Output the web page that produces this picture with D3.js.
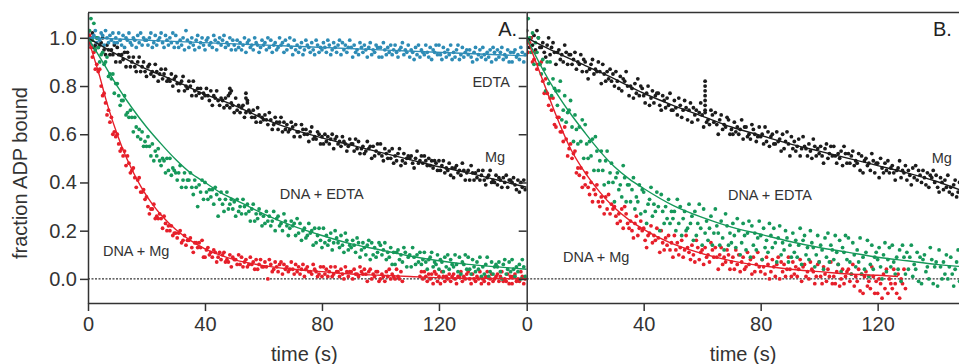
<!DOCTYPE html>
<html>
<head>
<meta charset="utf-8">
<script src="https://cdn.jsdelivr.net/npm/d3@7"></script>
<style>
	body { margin: 0; background: #fff; }
	svg { display: block; font-family: 'Liberation Sans', Arial, sans-serif; }
	.axis path, .axis line { stroke: #333; stroke-width: 1.5; }
	.axis text { font-size: 20px; fill: #333; font-family: 'Liberation Sans', Arial, sans-serif; }
	.note { font-size: 14.5px; fill: #333; }
	.panel-name { font-size: 20px; fill: #222; }
</style>
</head>
<body>
<svg id="chart" width="959" height="364"></svg>
<script>
// fraction ADP bound x 100, one reading every 0.5 s from t = 0
const timeStep = 0.5;
const tickTimes = [0, 40, 80, 120];
const tickFractions = [0, 0.2, 0.4, 0.6, 0.8, 1.0];

// panel A
const panelA_edta = [
	102,99,97,100,101,103,98,100,99,102,101,97,103,100,98,101,99,102,98,100,
	98,102,99,97,101,96,100,99,102,98,97,100,99,96,101,98,102,97,100,99,
	99,97,100,102,96,98,101,97,99,100,102,98,96,101,99,97,100,98,102,96,
	101,98,96,99,97,100,95,103,99,96,98,100,97,95,99,101,96,98,100,97,
	95,99,100,97,98,96,101,99,95,98,100,97,99,101,96,98,97,100,95,99,
	97,95,99,96,98,95,97,100,94,98,99,96,97,95,100,98,97,94,96,99,
	97,98,95,100,96,99,94,97,98,95,96,100,97,98,94,99,95,97,100,96,
	93,99,95,97,94,96,98,93,95,99,97,96,94,98,95,93,99,97,94,96,
	95,98,96,94,99,97,93,95,98,96,94,97,99,93,98,95,97,94,96,99,
	96,92,97,94,95,93,98,96,94,97,95,92,96,98,93,95,94,97,96,92,
	96,92,98,95,93,96,94,97,93,95,97,94,92,95,96,98,93,95,94,97,
	92,95,94,91,96,93,97,92,95,94,93,97,94,92,96,91,95,94,97,93,
	97,93,91,96,94,92,95,93,97,91,94,92,95,97,91,93,96,92,94,95,
	93,95,92,90,94,96,91,93,95,92,96,93,91,94,92,95,90,96,94,91,
	95,92,94,96,91,93,92,95,90,94,90,94,95,92,93,91,96,94,90,93
];
const panelA_mg = [
	100,98,100,102,96,97,100,96,97,98,100,95,93,97,95,93,95,93,97,90,
	96,93,90,93,91,94,88,94,92,88,90,92,88,86,90,92,86,88,90,86,
	84,88,89,85,86,84,89,86,82,85,87,83,85,87,82,83,82,85,80,83,
	84,81,78,81,82,84,78,80,79,82,80,76,82,78,76,79,77,79,75,77,
	76,79,76,74,78,72,76,75,78,74,72,75,74,71,75,72,76,71,73,72,
	69,75,70,72,69,71,72,67,69,73,70,69,67,70,67,65,71,68,65,67,
	66,68,66,64,69,66,62,64,67,65,62,65,67,61,65,62,64,61,62,65,
	63,59,64,61,61,59,64,62,60,62,60,57,61,63,58,59,58,61,60,56,
	59,56,60,57,59,56,58,60,54,58,59,56,57,55,59,57,56,53,55,58,
	56,56,53,58,54,57,52,54,55,52,53,57,54,55,50,55,51,53,56,52,
	56,51,49,54,52,50,53,50,54,48,51,49,52,54,47,49,52,48,50,51,
	50,51,48,46,50,53,48,49,51,48,51,49,47,50,47,49,46,49,48,45,
	49,45,47,49,44,46,45,48,43,46,42,46,47,44,45,43,48,45,41,44,
	45,41,47,44,41,44,42,45,41,43,45,41,39,42,43,45,40,41,40,43,
	39,42,41,38,42,40,43,38,41,41,40,42,39,37,41,36,40,38,41,37
];
const panelA_mgSpike = [[48.5, 79], [48.5, 77], [49, 78], [54, 77], [54, 75], [54.5, 74]];
const panelA_dnaEdta = [
	99,103,108,99,106,95,100,96,90,93,94,89,90,92,84,85,83,85,77,81,
	81,76,72,74,74,76,68,69,67,70,67,61,67,63,59,62,58,61,55,57,
	55,59,55,51,56,49,53,51,54,49,47,50,49,44,50,45,50,43,46,45,
	44,41,44,47,38,41,44,38,41,41,44,38,35,41,38,30,39,36,41,33,
	40,36,33,37,34,37,31,38,35,26,33,36,31,28,33,36,29,31,33,29,
	32,26,33,28,30,27,33,30,27,31,28,24,29,31,24,27,25,29,27,22,
	26,23,28,24,26,22,24,28,20,25,26,22,23,20,27,24,22,18,21,24,
	22,23,18,25,19,23,16,20,21,17,18,23,19,20,14,21,15,18,21,16,
	13,21,15,18,14,16,19,12,15,20,17,15,13,18,14,11,19,16,12,14,
	13,16,14,11,17,15,9,12,15,13,10,14,16,8,15,10,13,9,11,15,
	14,10,12,15,8,11,9,13,6,11,6,11,12,8,10,7,13,11,5,9,
	10,5,13,9,6,10,7,11,6,8,11,7,4,8,9,11,5,7,6,10,
	4,8,7,3,9,5,10,4,8,6,5,10,6,3,9,2,7,6,10,4,
	9,4,2,8,5,3,7,4,9,1,5,2,6,9,1,3,7,2,5,6,
	5,7,3,0,6,8,2,4,7,3,8,4,1,5,3,6,0,8,5,1
];
const panelA_dnaMg = [
	99,101,96,92,94,87,89,86,87,80,76,77,73,68,70,65,67,60,61,59,
	60,56,53,54,51,53,47,51,48,44,45,46,42,38,41,42,36,36,37,33,
	34,30,27,29,29,31,25,26,25,27,25,21,26,23,20,22,20,22,18,19,
	19,17,19,20,15,16,18,14,16,16,17,13,11,15,15,13,15,13,16,9,
	9,12,13,10,11,9,12,11,7,9,11,8,10,11,7,8,7,10,5,9,
	8,8,6,10,6,9,5,7,8,5,6,9,6,7,4,8,4,6,8,5,
	5,7,5,0,8,6,3,4,7,5,3,6,7,2,6,4,5,3,4,7,
	4,2,6,3,5,2,4,6,1,4,5,3,3,2,6,4,3,1,2,5,
	1,5,2,4,1,3,5,1,2,5,3,3,1,4,2,0,5,3,1,3,
	3,0,4,2,2,1,5,3,2,4,2,-1,3,4,0,2,1,3,3,-1,
	0,2,1,-1,3,1,4,0,2,1,0,4,1,0,3,-1,null,null,null,null,
	null,null,null,null,null,null,null,1,3,0,3,1,-1,2,0,2,-2,3,2,-1,
	1,-2,3,1,-1,1,0,2,-1,1,2,0,-2,1,1,3,-1,1,0,2,
	3,0,-2,2,0,-1,1,0,3,-2,0,-1,1,3,-2,0,2,-1,0,1,
	2,-1,1,3,-1,0,-1,2,-2,1,-2,1,2,-1,0,-1,3,1,-2,0
];

// panel B
const panelB_mg = [
	103,99,96,100,97,101,95,103,100,96,96,98,94,92,97,100,93,96,98,94,
	89,94,95,91,93,90,97,94,89,93,93,89,91,94,87,90,89,93,86,91,
	90,86,83,87,89,91,85,87,86,90,86,81,89,85,82,86,83,87,82,85,
	80,86,82,79,84,78,83,82,86,80,76,80,79,75,81,77,83,76,80,79,
	76,73,77,80,72,75,78,73,76,77,77,72,70,76,74,71,75,72,77,70,
	70,74,71,68,75,72,67,70,74,71,66,70,73,65,71,68,70,66,69,73,
	68,63,69,65,66,64,70,68,65,69,64,60,66,68,62,64,63,67,66,60,
	62,60,65,61,63,60,62,66,58,63,63,59,60,58,64,62,60,57,59,63,
	59,60,56,63,57,61,55,59,60,56,56,61,57,58,53,60,54,57,61,56,
	51,59,54,57,53,55,58,51,54,59,55,54,51,56,53,50,58,55,51,54,
	52,55,51,48,54,56,50,52,55,51,55,51,48,52,50,53,47,55,52,48,
	52,48,51,53,47,49,48,52,45,51,44,49,50,47,48,45,52,49,44,48,
	48,42,50,46,44,48,45,49,44,46,47,44,41,45,46,49,42,45,44,47,
	41,45,43,39,46,42,47,41,45,43,40,45,42,39,44,38,43,42,45,40,
	43,38,36,42,40,37,41,38,43,36,38,35,39,41,34,36,40,35,38,39
];
const panelB_mgSpike = [[61, 82], [61, 80], [61, 78], [61, 76], [61, 74], [61, 72], [61, 70]];
const panelB_dnaEdta = [
	100,108,100,94,102,89,98,94,100,89,85,91,87,78,90,81,90,76,83,79,
	78,72,78,82,66,70,76,65,69,70,74,63,57,68,62,56,63,57,66,50,
	64,56,50,57,51,58,45,59,53,45,49,53,45,39,49,53,40,44,48,40,
	32,42,44,37,39,34,47,42,32,39,39,32,37,42,29,34,32,39,27,37,
	36,28,23,31,33,38,26,31,28,36,30,20,35,28,23,30,25,33,23,28,
	25,28,20,33,23,30,18,25,28,20,21,31,23,26,16,28,18,23,31,21,
	14,29,19,24,16,21,26,14,19,29,22,19,14,24,17,12,27,22,14,19,
	15,23,18,13,25,20,10,15,23,18,12,19,24,9,22,14,19,12,17,24,
	18,8,21,13,16,11,23,18,13,21,15,7,17,22,10,15,12,20,17,7,
	14,9,19,11,16,9,14,21,6,16,18,10,13,8,20,15,13,5,10,18,
	7,14,12,4,17,9,19,7,14,12,8,18,11,6,16,3,13,11,18,8,
	17,7,2,15,10,5,12,7,17,2,9,4,11,16,1,6,14,4,9,11,
	8,13,5,0,10,15,3,8,13,5,14,7,2,9,4,12,-1,14,9,2,
	11,4,9,14,1,6,4,11,-1,9,-2,8,10,3,5,0,13,8,-2,5,
	7,-3,12,5,0,7,2,10,0,5,9,2,-3,4,7,12,-1,4,2,9
];
const panelB_dnaMg = [
	98,94,98,100,90,91,94,87,89,89,90,82,77,83,77,72,75,70,75,64,
	63,67,67,61,61,57,63,58,51,54,56,50,52,53,44,46,43,46,38,42,
	39,44,38,35,40,32,37,35,39,32,30,34,32,27,34,29,35,27,31,29,
	30,26,23,27,24,29,21,30,27,23,21,24,20,17,23,26,18,21,24,20,
	21,16,13,18,19,22,15,18,16,21,17,11,20,15,12,17,14,18,12,15,
	9,18,12,15,10,13,16,9,12,18,13,11,8,14,10,7,16,13,8,11,
	12,6,13,9,10,7,15,12,9,13,9,4,10,13,6,9,7,12,10,4,
	7,9,4,12,6,10,3,7,9,4,5,11,6,8,2,9,3,6,11,5,
	3,8,5,2,9,6,0,3,8,5,1,6,9,0,7,3,6,1,4,9,
	4,1,7,2,5,1,4,8,-1,5,6,1,3,0,7,4,3,-2,1,6,
	7,1,-2,5,2,-1,4,1,7,-2,1,-2,3,6,-3,0,4,-2,1,3,
	4,-1,2,6,-3,1,-1,4,-5,2,-6,1,3,-3,-1,-4,5,1,-6,-1,
	-6,0,-2,-8,2,-4,4,-6,0,-2,-4,4,-2,-6,2,-8,0,-2,4,-4
];

// fitted curves, [time s, fraction x 100]
const fitA_edta = [[0,100],[50,97.5],[100,95],[150,92.5]];
const fitA_mg = [[0,100],[10,93],[20,87],[30,82],[40,76.5],[50,72],[60,66.5],[70,62],[80,58.5],[90,55.5],[100,52.5],[110,49.5],[120,46.5],[130,44],[140,41],[150,38]];
const fitA_dnaEdta = [[0,100],[5,90],[10,80],[15,71],[20,63],[25,56],[30,49.5],[35,44],[40,40],[45,36],[50,33],[60,27],[70,22],[80,18],[90,14.5],[100,12],[110,9.5],[120,7.5],[130,6],[140,5],[150,4]];
const fitA_dnaMg = [[0,100],[2,92],[4,84],[6,75],[8,67],[10,60],[12,53.5],[14,48],[16,43],[18,38.5],[20,34.5],[22,31],[25,26.5],[30,20.5],[35,16],[40,12.5],[45,10],[50,8],[60,5.5],[70,4],[80,3],[90,2],[100,1.5],[110,1],[120,0.5],[135,0.2],[150,0]];
const fitB_mg = [[0,100],[10,94],[20,88.5],[30,83],[40,77],[50,72],[60,67.5],[70,63],[80,59.5],[90,56],[100,53],[110,50],[120,47],[130,44],[140,40.5],[150,36]];
const fitB_dnaEdta = [[0,100],[5,88],[10,77.5],[15,68.5],[20,60.5],[25,53],[30,46.5],[35,41.5],[40,37.5],[50,30.5],[60,25.5],[70,21.5],[80,18.5],[90,15.5],[100,13],[110,11],[120,9],[130,7.5],[140,6],[150,5]];
const fitB_dnaMg = [[0,100],[5,84],[10,68],[15,54],[20,44],[25,36],[30,29.5],[35,24.5],[40,20.5],[50,14.5],[60,10.5],[70,7.5],[80,5.5],[90,4],[100,3],[110,2],[120,1.5],[127,1]];

const colors = { edta: '#2e8cb6', mg: '#1c1c1c', dnaEdta: '#16985a', dnaMg: '#e61f2a' };

const svg = d3.select('#chart');
const plotTop = 12.5, plotBottom = 303, panelWidth = 438.7;

const y = d3.scaleLinear().domain([-0.1, 1.105]).range([plotBottom, plotTop]);

const panels = [
	{
		id: 'A', left: 88,
		series: [
			{ values: panelA_mg, extra: panelA_mgSpike, color: colors.mg, fit: fitA_mg },
			{ values: panelA_edta, color: colors.edta, fit: fitA_edta },
			{ values: panelA_dnaMg, color: colors.dnaMg, fit: fitA_dnaMg },
			{ values: panelA_dnaEdta, color: colors.dnaEdta, fit: fitA_dnaEdta }
		],
		notes: [
			{ text: 'A.', t: 146.7, v: 1.037, anchor: 'end', cls: 'panel-name' },
			{ text: 'EDTA', t: 144.3, v: 0.817, anchor: 'end' },
			{ text: 'Mg', t: 142.6, v: 0.506, anchor: 'end' },
			{ text: 'DNA + EDTA', t: 65.6, v: 0.352, anchor: 'start' },
			{ text: 'DNA + Mg', t: 5.1, v: 0.116, anchor: 'start' }
		]
	},
	{
		id: 'B', left: 88 + panelWidth,
		series: [
			{ values: panelB_mg, extra: panelB_mgSpike, color: colors.mg, fit: fitB_mg },
			{ values: panelB_dnaMg, color: colors.dnaMg, fit: fitB_dnaMg },
			{ values: panelB_dnaEdta, color: colors.dnaEdta, fit: fitB_dnaEdta }
		],
		notes: [
			{ text: 'B.', t: 145.4, v: 1.037, anchor: 'end', cls: 'panel-name' },
			{ text: 'Mg', t: 145.4, v: 0.501, anchor: 'end' },
			{ text: 'DNA + EDTA', t: 97.5, v: 0.348, anchor: 'end' },
			{ text: 'DNA + Mg', t: 12.4, v: 0.091, anchor: 'start' }
		]
	}
];

const defs = svg.append('defs');

panels.forEach((p) => {
	const x = d3.scaleLinear().domain([0, 150]).range([p.left, p.left + panelWidth]);

	defs.append('clipPath').attr('id', 'clip' + p.id)
		.append('rect')
			.attr('x', p.left).attr('y', plotTop)
			.attr('width', panelWidth).attr('height', plotBottom - plotTop);

	const plot = svg.append('g').attr('clip-path', 'url(#clip' + p.id + ')');

	// zero reference
	plot.append('line')
		.attr('x1', x(0)).attr('x2', x(150))
		.attr('y1', y(0)).attr('y2', y(0))
		.attr('stroke', '#000').attr('stroke-width', 1)
		.attr('stroke-dasharray', '2,1.5');

	p.series.forEach((s) => {
		let pts = s.values
			.map((v, i) => [i * timeStep, v])
			.filter((d) => d[1] !== null);
		if (s.extra) pts = pts.concat(s.extra);
		plot.append('g')
			.attr('fill', s.color)
			.selectAll('circle')
			.data(pts)
			.enter().append('circle')
				.attr('cx', (d) => x(d[0]))
				.attr('cy', (d) => y(d[1] / 100))
				.attr('r', 1.9);
	});

	const fitLine = d3.line()
		.x((d) => x(d[0]))
		.y((d) => y(d[1] / 100))
		.curve(d3.curveMonotoneX);

	p.series.forEach((s) => {
		plot.append('path')
			.datum(s.fit)
			.attr('fill', 'none')
			.attr('stroke', s.color)
			.attr('stroke-width', 1.4)
			.attr('d', fitLine);
	});

	// frame top
	svg.append('line')
		.attr('x1', p.left).attr('x2', p.left + panelWidth)
		.attr('y1', plotTop).attr('y2', plotTop)
		.attr('stroke', '#333').attr('stroke-width', 1.5);

	svg.append('g')
		.attr('class', 'axis')
		.attr('transform', 'translate(0,' + plotBottom + ')')
		.call(d3.axisBottom(x).tickValues(tickTimes).tickSize(8).tickSizeOuter(0).tickPadding(6));

	svg.append('g')
		.attr('class', 'axis')
		.attr('transform', 'translate(' + p.left + ',0)')
		.call(d3.axisLeft(y).tickValues(tickFractions).tickSize(8).tickSizeOuter(0)
			.tickFormat(p.id === 'A' ? d3.format('.1f') : ''));

	svg.append('text')
		.attr('x', p.left + panelWidth / 2 - 3)
		.attr('y', 361)
		.attr('text-anchor', 'middle')
		.attr('font-size', 20)
		.attr('fill', '#333')
		.text('time (s)');

	p.notes.forEach((n) => {
		svg.append('text')
			.attr('class', n.cls || 'note')
			.attr('x', x(n.t))
			.attr('y', y(n.v))
			.attr('dy', '0.35em')
			.attr('text-anchor', n.anchor)
			.text(n.text);
	});
});

svg.append('text')
	.attr('transform', 'translate(27,173) rotate(-90)')
	.attr('text-anchor', 'middle')
	.attr('font-size', 20)
	.attr('fill', '#333')
	.text('fraction ADP bound');
</script>
</body>
</html>
